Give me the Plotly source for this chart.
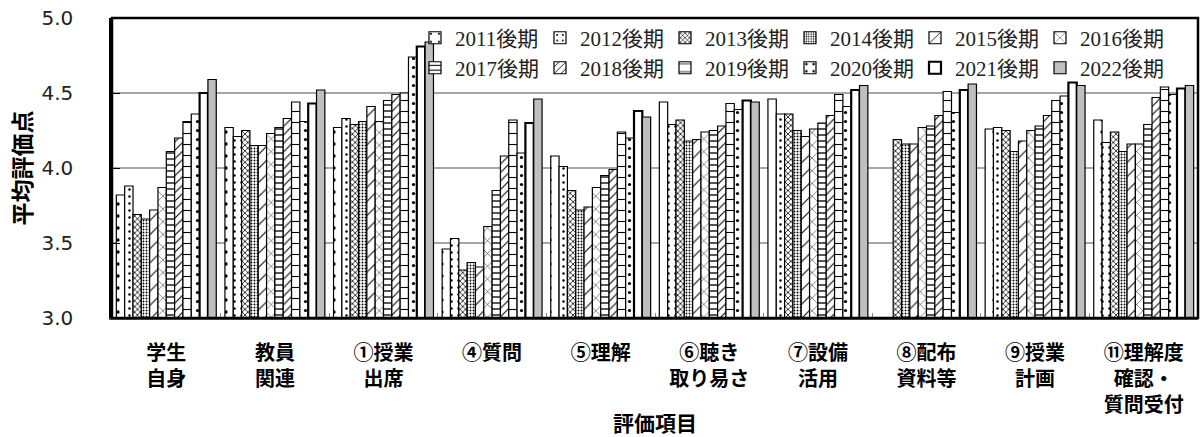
import plotly.graph_objects as go

# Evaluation items (x categories)
categories = [
    "学生<br>自身", "教員<br>関連", "①授業<br>出席", "④質問", "⑤理解",
    "⑥聴き<br>取り易さ", "⑦設備<br>活用", "⑧配布<br>資料等", "⑨授業<br>計画",
    "⑪理解度<br>確認・<br>質問受付",
]

# Survey terms (series)
terms = ["2011後期", "2012後期", "2013後期", "2014後期", "2015後期", "2016後期",
         "2017後期", "2018後期", "2019後期", "2020後期", "2021後期", "2022後期"]

# Average evaluation score per term, one value per evaluation item
v2011 = [3.82, 4.27, 4.27, 3.46, 4.08, 4.44, 4.46, None, 4.26, 4.32]
v2012 = [3.88, 4.21, 4.33, 3.53, 4.01, 4.29, 4.36, None, 4.27, 4.17]
v2013 = [3.69, 4.25, 4.29, 3.32, 3.85, 4.32, 4.36, 4.19, 4.25, 4.24]
v2014 = [3.66, 4.15, 4.31, 3.37, 3.72, 4.18, 4.25, 4.16, 4.11, 4.11]
v2015 = [3.72, 4.15, 4.41, 3.34, 3.74, 4.19, 4.21, 4.16, 4.18, 4.16]
v2016 = [3.87, 4.23, 4.31, 3.61, 3.87, 4.24, 4.26, 4.27, 4.25, 4.16]
v2017 = [4.11, 4.27, 4.45, 3.85, 3.95, 4.25, 4.30, 4.28, 4.28, 4.29]
v2018 = [4.20, 4.33, 4.49, 4.08, 3.99, 4.28, 4.35, 4.35, 4.35, 4.47]
v2019 = [4.31, 4.44, 4.50, 4.32, 4.24, 4.43, 4.49, 4.51, 4.45, 4.54]
v2020 = [4.36, 4.31, 4.74, 4.10, 4.20, 4.39, 4.41, 4.37, 4.48, 4.49]
v2021 = [4.50, 4.43, 4.81, 4.30, 4.38, 4.45, 4.52, 4.52, 4.57, 4.53]
v2022 = [4.59, 4.52, 4.84, 4.46, 4.34, 4.44, 4.55, 4.56, 4.55, 4.55]

series = [v2011, v2012, v2013, v2014, v2015, v2016,
          v2017, v2018, v2019, v2020, v2021, v2022]

# Fill style per term: (pattern shape, pattern size, solidity, fill colour, outline width)
styles = [
    (".", 12, 0.06, "white", 1.2),
    (".", 7, 0.10, "white", 1.2),
    ("x", 4, 0.35, "white", 1.2),
    (".", 3, 0.30, "white", 1.2),
    ("/", 10, 0.10, "white", 1.2),
    ("x", 9, 0.10, "white", 1.2),
    ("-", 6, 0.22, "white", 1.2),
    ("/", 6, 0.18, "white", 1.2),
    ("-", 11, 0.10, "white", 1.2),
    (".", 9, 0.10, "white", 1.2),
    ("", 8, 0.1, "white", 2.2),
    ("", 8, 0.1, "#bfbfbf", 1.2),
]

fig = go.Figure()
for i, (name, vals) in enumerate(zip(terms, series)):
    shape, size, sol, fill, lw = styles[i]
    pattern = dict(shape=shape, size=size, solidity=sol, fgcolor="black",
                   bgcolor=fill, fillmode="replace")
    fig.add_trace(go.Bar(
        x=categories, y=vals, name=name,
        marker=dict(color=fill, line=dict(color="black", width=lw), pattern=pattern),
        legend="legend" if i < 6 else "legend2",
    ))

legend_font = dict(family="Liberation Serif, Noto Sans CJK JP", size=21, color="#222")
legend_common = dict(orientation="h", xanchor="left", yanchor="middle",
                     entrywidth=80, bgcolor="rgba(0,0,0,0)", font=legend_font,
                     itemwidth=30, traceorder="normal")

fig.update_layout(
    width=1204, height=437,
    margin=dict(l=112, r=6, t=18, b=119, autoexpand=False),
    paper_bgcolor="white", plot_bgcolor="white",
    barmode="group", bargap=0.08, bargroupgap=0,
    showlegend=True,
    legend=dict(x=0.279, y=0.933, **legend_common),
    legend2=dict(x=0.279, y=0.833, **legend_common),
    xaxis=dict(
        type="category", automargin=False,
        tickfont=dict(family="Noto Sans CJK JP", size=20, color="black", weight="bold"),
        ticks="inside", ticklen=5, tickcolor="#888", tickson="boundaries",
        ticklabelstandoff=16,
        showline=True, linecolor="#555", linewidth=1.5,
        title=dict(text="評価項目", standoff=0,
                   font=dict(family="Noto Sans CJK JP", size=21, color="black", weight="bold")),
    ),
    yaxis=dict(
        range=[3.0, 5.0], dtick=0.5, tickformat=".1f", automargin=False,
        tickfont=dict(family="DejaVu Sans", size=20, color="#222"),
        ticks="inside", ticklen=8, tickcolor="black",
        ticklabelstandoff=32,
        showgrid=True, gridcolor="#a6a6a6", gridwidth=1.5,
        showline=True, linecolor="black", linewidth=2.5,
        zeroline=False,
        title=dict(text="平均評価点", standoff=4,
                   font=dict(family="Noto Sans CJK JP", size=23, color="black", weight="bold")),
    ),
    shapes=[dict(type="rect", xref="paper", yref="paper", x0=0, x1=1, y0=0, y1=1,
                 line=dict(color="black", width=2.5), layer="above")],
)

fig.write_html("out.html")
